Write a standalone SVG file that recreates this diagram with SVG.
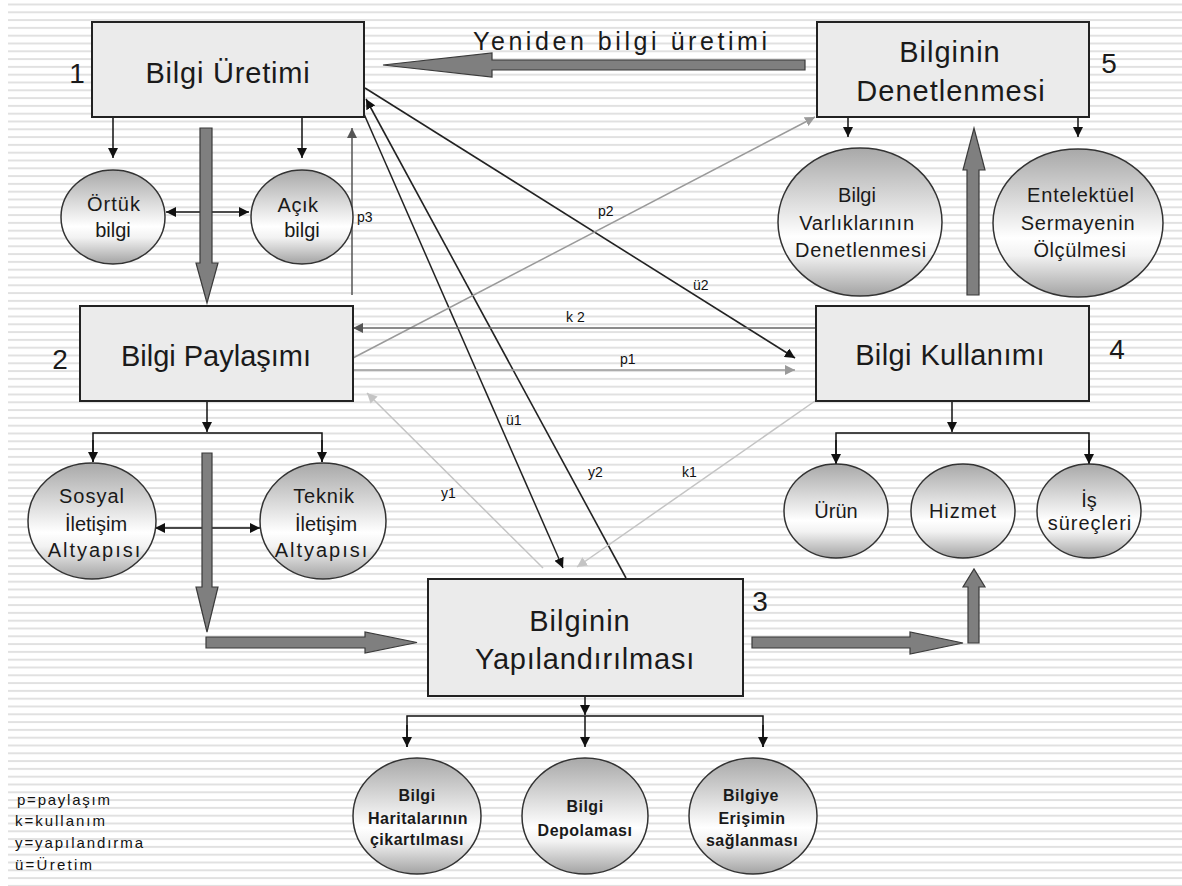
<svg xmlns="http://www.w3.org/2000/svg" width="1182" height="886" viewBox="0 0 1182 886">
<style>
.box{fill:#ebebeb;stroke:#222;stroke-width:2}
.circ{fill:url(#cg);stroke:#333;stroke-width:1.5}
.t{font-family:"Liberation Sans",Arial,sans-serif;fill:#1a1a1a;text-anchor:middle}
.bt{font-size:29px}
.num{font-size:28px}
.ct{font-size:20px}
.st{font-size:16px;font-weight:bold;letter-spacing:0.5px}
.lbl{font-family:"Liberation Sans",Arial,sans-serif;font-size:14px;fill:#111}
.leg{font-family:"Liberation Sans",Arial,sans-serif;font-size:15px;fill:#111}
.k{fill:none;stroke:#111;stroke-width:1.5}
.big{fill:#7f7f7f;stroke:#3a3a3a;stroke-width:1.2}
</style>
<defs>
<pattern id="stripes" patternUnits="userSpaceOnUse" x="0" y="3.5" width="20" height="7.8"><rect x="0" y="0" width="20" height="2" fill="#e1e1e1"/></pattern>
<linearGradient id="cg" x1="0" y1="0" x2="0" y2="1"><stop offset="0" stop-color="#a8a8a8"/><stop offset="0.6" stop-color="#ffffff"/><stop offset="0.72" stop-color="#f2f2f2"/><stop offset="1" stop-color="#a2a2a2"/></linearGradient>
<marker id="ah" viewBox="0 0 10 10" refX="10" refY="5" markerWidth="10" markerHeight="10" markerUnits="userSpaceOnUse" orient="auto-start-reverse"><path d="M0,0 L10,5 L0,10 z" fill="#111"/></marker>
<marker id="ahm" viewBox="0 0 10 10" refX="10" refY="5" markerWidth="10" markerHeight="10" markerUnits="userSpaceOnUse" orient="auto-start-reverse"><path d="M0,0 L10,5 L0,10 z" fill="#555"/></marker>
<marker id="ahg" viewBox="0 0 10 10" refX="10" refY="5" markerWidth="10" markerHeight="10" markerUnits="userSpaceOnUse" orient="auto-start-reverse"><path d="M0,0 L10,5 L0,10 z" fill="#9a9a9a"/></marker>
<marker id="ahl" viewBox="0 0 10 10" refX="10" refY="5" markerWidth="10" markerHeight="10" markerUnits="userSpaceOnUse" orient="auto-start-reverse"><path d="M0,0 L10,5 L0,10 z" fill="#c4c4c4"/></marker>
</defs>
<rect x="0" y="0" width="1182" height="886" fill="#ffffff"/>
<rect x="8" y="0" width="1174" height="886" fill="url(#stripes)"/>

<g id="connectors">
  <line class="k" x1="113" y1="117" x2="113" y2="158" marker-end="url(#ah)"/>
  <line class="k" x1="302" y1="117" x2="302" y2="158" marker-end="url(#ah)"/>
  <line class="k" x1="166" y1="212" x2="249" y2="212" marker-start="url(#ah)" marker-end="url(#ah)"/>
  <line class="k" x1="848" y1="117" x2="848" y2="137" marker-end="url(#ah)"/>
  <line class="k" x1="1078" y1="117" x2="1078" y2="137" marker-end="url(#ah)"/>
  <line class="k" x1="207" y1="401" x2="207" y2="432" marker-end="url(#ah)"/>
  <polyline class="k" points="93,462 93,433 322,433 322,462"/>
  <line class="k" x1="93" y1="440" x2="93" y2="462" marker-end="url(#ah)"/>
  <line class="k" x1="322" y1="440" x2="322" y2="462" marker-end="url(#ah)"/>
  <line class="k" x1="155" y1="528" x2="260" y2="528" marker-start="url(#ah)" marker-end="url(#ah)"/>
  <line class="k" x1="952" y1="401" x2="952" y2="432" marker-end="url(#ah)"/>
  <polyline class="k" points="836,464 836,433 1089,433 1089,464"/>
  <line class="k" x1="836" y1="440" x2="836" y2="464" marker-end="url(#ah)"/>
  <line class="k" x1="1089" y1="440" x2="1089" y2="464" marker-end="url(#ah)"/>
  <line class="k" x1="585" y1="696" x2="585" y2="715" marker-end="url(#ah)"/>
  <polyline class="k" points="407,747 407,716 763,716 763,747"/>
  <line class="k" x1="407" y1="725" x2="407" y2="747" marker-end="url(#ah)"/>
  <line class="k" x1="585" y1="716" x2="585" y2="747" marker-end="url(#ah)"/>
  <line class="k" x1="763" y1="725" x2="763" y2="747" marker-end="url(#ah)"/>
  <line x1="352" y1="295" x2="352" y2="128" stroke="#555" stroke-width="1.5" marker-end="url(#ahm)"/>
  <text class="lbl" x="357" y="222">p3</text>
  <line x1="365" y1="88" x2="795" y2="358" stroke="#222" stroke-width="1.6" marker-end="url(#ah)"/>
  <text class="lbl" x="693" y="290">ü2</text>
  <line x1="364" y1="114" x2="563" y2="568" stroke="#222" stroke-width="1.5" marker-end="url(#ah)"/>
  <text class="lbl" x="506" y="425">ü1</text>
  <line x1="626" y1="578" x2="366" y2="99" stroke="#222" stroke-width="1.6" marker-end="url(#ah)"/>
  <text class="lbl" x="588" y="477">y2</text>
  <line x1="353" y1="358" x2="815" y2="117" stroke="#9a9a9a" stroke-width="1.5" marker-end="url(#ahg)"/>
  <text class="lbl" x="598" y="216">p2</text>
  <line x1="816" y1="328" x2="353" y2="328" stroke="#666" stroke-width="1.5" marker-end="url(#ahm)"/>
  <text class="lbl" x="566" y="322">k 2</text>
  <line x1="353" y1="370" x2="795" y2="370" stroke="#9a9a9a" stroke-width="1.5" marker-end="url(#ahg)"/>
  <text class="lbl" x="620" y="364">p1</text>
  <line x1="543" y1="568" x2="367" y2="393" stroke="#c4c4c4" stroke-width="1.5" marker-end="url(#ahl)"/>
  <text class="lbl" x="441" y="498">y1</text>
  <line x1="815" y1="401" x2="577" y2="567" stroke="#c4c4c4" stroke-width="1.5" marker-end="url(#ahl)"/>
  <text class="lbl" x="682" y="477">k1</text>
  <polygon class="big" points="805,60 492,60 492,53 383,65 492,77 492,70 805,70"/>
  <text class="t" x="620" y="50" font-size="25" textLength="294" lengthAdjust="spacing">Yeniden bilgi üretimi</text>
  <polygon class="big" points="200,128 212,128 212,263 218,263 207,303 196,263 200,263"/>
  <polygon class="big" points="202,453 212,453 212,587 218,587 207,632 196,587 202,587"/>
  <polygon class="big" points="206,637 365,637 365,632 417,642.5 365,653 365,648 206,648"/>
  <polygon class="big" points="752,637 910,637 910,632 963,643 910,654 910,648 752,648"/>
  <polygon class="big" points="968,643 968,587 963,587 974,569 985,587 979,587 979,643"/>
  <polygon class="big" points="967,295 967,170 963,170 974,128 985,170 979,170 979,295"/>
</g>

<g id="n1">
  <rect class="box" x="92" y="22" width="272" height="95"/>
  <text class="t bt" x="228" y="83" letter-spacing="0.8">Bilgi Üretimi</text>
  <text class="t num" x="77" y="83">1</text>
</g>
<g id="n5">
  <rect class="box" x="817" y="22" width="272" height="95"/>
  <text class="t bt" x="950" y="62" letter-spacing="1">Bilginin</text>
  <text class="t bt" x="951" y="101" letter-spacing="1">Denetlenmesi</text>
  <text class="t num" x="1109" y="73">5</text>
</g>
<g id="n2">
  <rect class="box" x="80" y="306" width="273" height="95"/>
  <text class="t bt" x="216" y="366">Bilgi Paylaşımı</text>
  <text class="t num" x="60" y="369">2</text>
</g>
<g id="n4">
  <rect class="box" x="816" y="306" width="273" height="95"/>
  <text class="t bt" x="950" y="365" letter-spacing="0.4">Bilgi Kullanımı</text>
  <text class="t num" x="1117" y="359">4</text>
</g>
<g id="n3">
  <rect class="box" x="428" y="579" width="315" height="117"/>
  <text class="t bt" x="580" y="631" letter-spacing="1">Bilginin</text>
  <text class="t bt" x="585" y="669" letter-spacing="0.8">Yapılandırılması</text>
  <text class="t num" x="760" y="611">3</text>
</g>

<g id="c-ortuk">
  <ellipse class="circ" cx="113" cy="217" rx="52" ry="47"/>
  <text class="t ct" x="114" y="211" letter-spacing="1">Örtük</text>
  <text class="t ct" x="113" y="237">bilgi</text>
</g>
<g id="c-acik">
  <ellipse class="circ" cx="302" cy="217" rx="51" ry="47"/>
  <text class="t ct" x="298" y="212" letter-spacing="0.5">Açık</text>
  <text class="t ct" x="302" y="237">bilgi</text>
</g>
<g id="c-varlik">
  <ellipse class="circ" cx="860" cy="222" rx="82" ry="74"/>
  <text class="t ct" x="857" y="202">Bilgi</text>
  <text class="t ct" x="857" y="230" letter-spacing="0.8">Varlıklarının</text>
  <text class="t ct" x="861" y="257" letter-spacing="0.8">Denetlenmesi</text>
</g>
<g id="c-sermaye">
  <ellipse class="circ" cx="1078" cy="223" rx="85" ry="74"/>
  <text class="t ct" x="1081" y="202" letter-spacing="0.8">Entelektüel</text>
  <text class="t ct" x="1078" y="230" letter-spacing="0.8">Sermayenin</text>
  <text class="t ct" x="1080" y="257" letter-spacing="0.6">Ölçülmesi</text>
</g>
<g id="c-sosyal">
  <ellipse class="circ" cx="92" cy="521" rx="64" ry="58"/>
  <text class="t ct" x="92" y="503" letter-spacing="1">Sosyal</text>
  <text class="t ct" x="96" y="531">İletişim</text>
  <text class="t ct" x="95" y="557" letter-spacing="2">Altyapısı</text>
</g>
<g id="c-teknik">
  <ellipse class="circ" cx="323" cy="521" rx="63" ry="58"/>
  <text class="t ct" x="324" y="503" letter-spacing="0.8">Teknik</text>
  <text class="t ct" x="326" y="531">İletişim</text>
  <text class="t ct" x="322" y="557" letter-spacing="2">Altyapısı</text>
</g>
<g id="c-urun">
  <ellipse class="circ" cx="836" cy="511" rx="52" ry="47"/>
  <text class="t ct" x="836" y="518">Ürün</text>
</g>
<g id="c-hizmet">
  <ellipse class="circ" cx="963" cy="511" rx="52" ry="47"/>
  <text class="t ct" x="963" y="518" letter-spacing="1">Hizmet</text>
</g>
<g id="c-is">
  <ellipse class="circ" cx="1089" cy="511" rx="52" ry="47"/>
  <text class="t ct" x="1089" y="507">İş</text>
  <text class="t ct" x="1090" y="530" letter-spacing="1">süreçleri</text>
</g>
<g id="c-harita">
  <ellipse class="circ" cx="417" cy="816" rx="64" ry="58"/>
  <text class="t st" x="417" y="801">Bilgi</text>
  <text class="t st" x="418" y="824">Haritalarının</text>
  <text class="t st" x="417" y="845">çikartılması</text>
</g>
<g id="c-depo">
  <ellipse class="circ" cx="585" cy="816" rx="63" ry="58"/>
  <text class="t st" x="585" y="812">Bilgi</text>
  <text class="t st" x="585" y="836" letter-spacing="1">Depolaması</text>
</g>
<g id="c-erisim">
  <ellipse class="circ" cx="753" cy="816" rx="64" ry="58"/>
  <text class="t st" x="751" y="801">Bilgiye</text>
  <text class="t st" x="752" y="824">Erişimin</text>
  <text class="t st" x="752" y="846">sağlanması</text>
</g>

<g id="legend">
  <text class="leg" x="17" y="805" textLength="93" lengthAdjust="spacing">p=paylaşım</text>
  <text class="leg" x="15" y="826" textLength="90" lengthAdjust="spacing">k=kullanım</text>
  <text class="leg" x="15" y="848" textLength="128" lengthAdjust="spacing">y=yapılandırma</text>
  <text class="leg" x="15" y="870" textLength="77" lengthAdjust="spacing">ü=Üretim</text>
</g>
</svg>
